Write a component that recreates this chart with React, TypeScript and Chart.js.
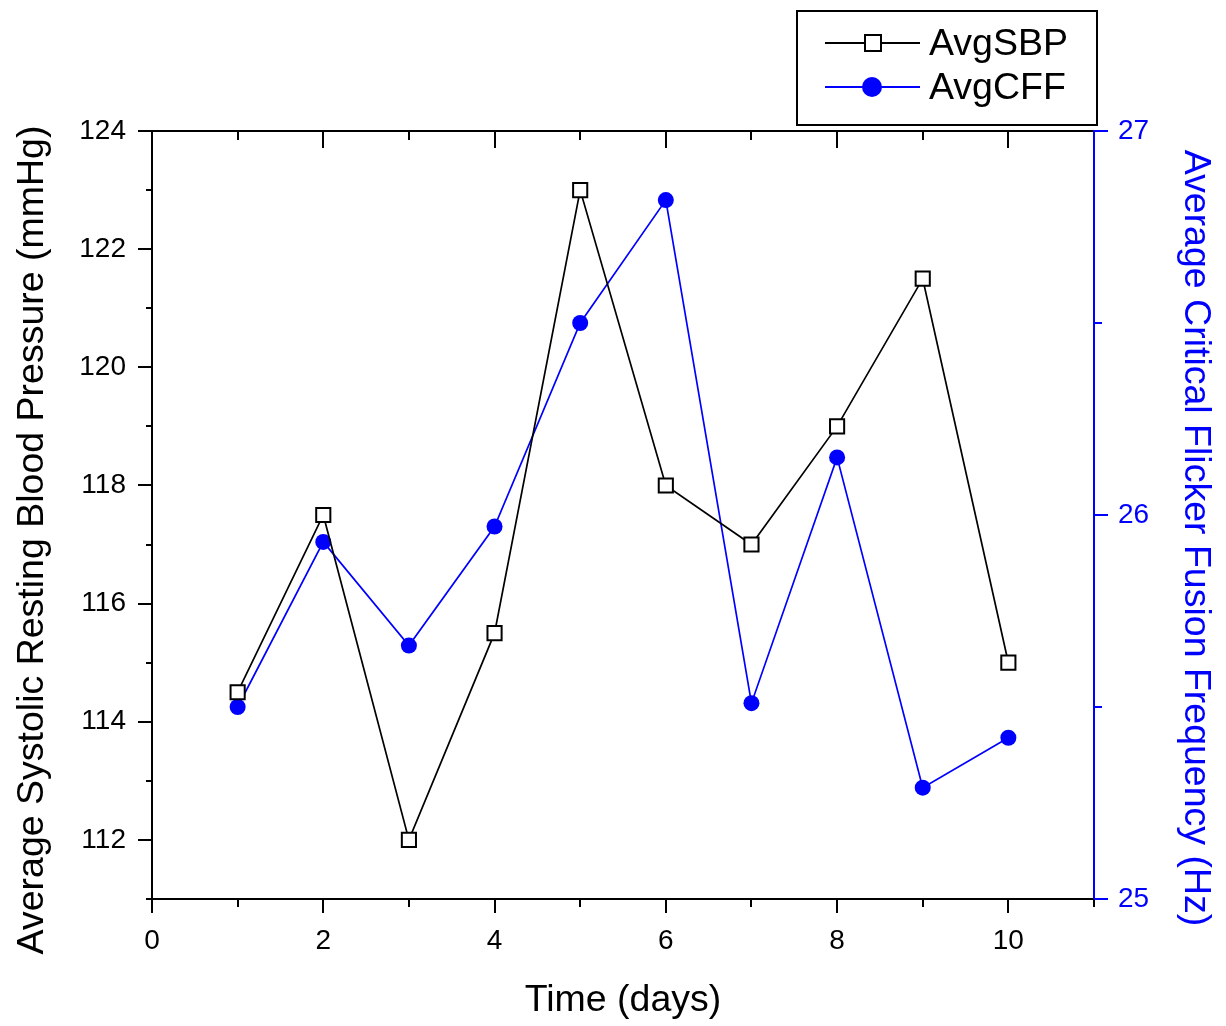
import React, { useEffect, useRef } from "react";
import { Chart, registerables } from "chart.js";

Chart.register(...registerables);

const days = [1, 2, 3, 4, 5, 6, 7, 8, 9, 10];
const avgSBP = [114.5, 117.5, 112, 115.5, 123, 118, 117, 119, 121.5, 115];
const avgCFF = [25.5, 25.93, 25.66, 25.97, 26.5, 26.82, 25.51, 26.15, 25.29, 25.42];

const xTicks = [0, 2, 4, 6, 8, 10];
const xMinor = [1, 3, 5, 7, 9, 11];
const leftTicks = [112, 114, 116, 118, 120, 122, 124];
const leftMinor = [111, 113, 115, 117, 119, 121, 123];
const rightTicks = [25, 26, 27];
const rightMinor = [25.5, 26.5];

const seriesNames = ["AvgSBP", "AvgCFF"];
const leftTitle = "Average Systolic Resting Blood Pressure (mmHg)";
const rightTitle = "Average Critical Flicker Fusion Frequency (Hz)";
const BLUE = "#0000ff";
const FONT = "'Liberation Sans', Arial, Helvetica, sans-serif";
const TITLE_SIZE = 37.5;
const TICK_SIZE = 28;

const axesPlugin = {
  id: "originAxes",
  beforeDatasetsDraw(chart: any) {
    const ctx = chart.ctx;
    const { left, right, top, bottom } = chart.chartArea;
    const sx = chart.scales.x;
    const sy = chart.scales.y;
    const sy1 = chart.scales.y1;
    ctx.save();
    ctx.lineWidth = 2;
    ctx.lineCap = "butt";
    ctx.strokeStyle = "#000";
    ctx.beginPath();
    ctx.moveTo(left, top);
    ctx.lineTo(left, bottom);
    ctx.moveTo(left - 1, bottom);
    ctx.lineTo(right, bottom);
    ctx.moveTo(left - 1, top);
    ctx.lineTo(right, top);
    leftTicks.forEach((v) => {
      const y = Math.round(sy.getPixelForValue(v));
      ctx.moveTo(left - 14, y);
      ctx.lineTo(left, y);
    });
    leftMinor.forEach((v) => {
      const y = Math.round(sy.getPixelForValue(v));
      ctx.moveTo(left - 6, y);
      ctx.lineTo(left, y);
    });
    xTicks.forEach((v) => {
      const x = Math.round(sx.getPixelForValue(v));
      ctx.moveTo(x, bottom);
      ctx.lineTo(x, bottom + 14);
      ctx.moveTo(x, top);
      ctx.lineTo(x, top + 17);
    });
    xMinor.forEach((v) => {
      const x = Math.round(sx.getPixelForValue(v));
      ctx.moveTo(x, bottom);
      ctx.lineTo(x, bottom + 8);
      if (v < 11) {
        ctx.moveTo(x, top);
        ctx.lineTo(x, top + 9);
      }
    });
    ctx.stroke();
    ctx.strokeStyle = BLUE;
    ctx.beginPath();
    ctx.moveTo(right, top - 1);
    ctx.lineTo(right, bottom);
    rightTicks.forEach((v) => {
      const y = Math.round(sy1.getPixelForValue(v));
      ctx.moveTo(right, y);
      ctx.lineTo(right + 14, y);
    });
    rightMinor.forEach((v) => {
      const y = Math.round(sy1.getPixelForValue(v));
      ctx.moveTo(right, y);
      ctx.lineTo(right + 8, y);
    });
    ctx.stroke();

    // vertical axis titles
    ctx.font = `${TITLE_SIZE}px ${FONT}`;
    ctx.textAlign = "center";
    ctx.textBaseline = "middle";
    ctx.save();
    ctx.translate(32.5, 540);
    ctx.rotate(-Math.PI / 2);
    ctx.fillStyle = "#000";
    ctx.fillText(leftTitle, 0, 0);
    ctx.restore();
    ctx.save();
    ctx.translate(1195.5, 538);
    ctx.rotate(Math.PI / 2);
    ctx.fillStyle = BLUE;
    ctx.fillText(rightTitle, 0, 0);
    ctx.restore();
    ctx.restore();
  },
  afterDraw(chart: any) {
    const ctx = chart.ctx;
    ctx.save();
    ctx.lineWidth = 2;
    ctx.strokeStyle = "#000";
    ctx.strokeRect(797, 11, 300, 114);
    const rows = [43, 87];
    ctx.beginPath();
    ctx.moveTo(825, rows[0]);
    ctx.lineTo(920, rows[0]);
    ctx.stroke();
    ctx.fillStyle = "#fff";
    ctx.fillRect(865, rows[0] - 8, 16, 16);
    ctx.strokeRect(865, rows[0] - 8, 16, 16);
    ctx.strokeStyle = BLUE;
    ctx.beginPath();
    ctx.moveTo(825, rows[1]);
    ctx.lineTo(920, rows[1]);
    ctx.stroke();
    ctx.fillStyle = BLUE;
    ctx.beginPath();
    ctx.arc(872, rows[1], 10, 0, Math.PI * 2);
    ctx.fill();
    ctx.fillStyle = "#000";
    ctx.font = `${TITLE_SIZE}px ${FONT}`;
    ctx.textAlign = "left";
    ctx.textBaseline = "middle";
    ctx.fillText(seriesNames[0], 929, rows[0] + 2);
    ctx.fillText(seriesNames[1], 929, rows[1] + 2);
    ctx.restore();
  },
};

export default function App() {
  const ref = useRef<HTMLCanvasElement | null>(null);

  useEffect(() => {
    if (!ref.current) return;
    const chart = new Chart(ref.current, {
      type: "line",
      data: {
        datasets: [
          {
            label: seriesNames[0],
            data: days.map((d, i) => ({ x: d, y: avgSBP[i] })),
            yAxisID: "y",
            borderColor: "#000",
            borderWidth: 1.7,
            pointStyle: "rect",
            pointRadius: 10,
            pointBorderWidth: 2,
            pointBackgroundColor: "#fff",
            pointBorderColor: "#000",
            tension: 0,
          },
          {
            label: seriesNames[1],
            data: days.map((d, i) => ({ x: d, y: avgCFF[i] })),
            yAxisID: "y1",
            borderColor: BLUE,
            borderWidth: 1.7,
            pointStyle: "circle",
            pointRadius: 8,
            pointBorderWidth: 0,
            pointBackgroundColor: BLUE,
            pointBorderColor: BLUE,
            tension: 0,
          },
        ],
      },
      options: {
        responsive: false,
        animation: false,
        layout: { padding: { top: 131, left: 0, right: 0, bottom: 0 } },
        plugins: { legend: { display: false }, tooltip: { enabled: false } },
        scales: {
          x: {
            type: "linear",
            position: "bottom",
            min: 0,
            max: 11,
            afterBuildTicks: (s: any) => {
              s.ticks = xTicks.map((v) => ({ value: v }));
            },
            afterFit: (s: any) => {
              s.height = 127;
            },
            grid: { display: false, drawTicks: false, tickLength: 0 },
            border: { display: false },
            ticks: {
              autoSkip: false,
              maxRotation: 0,
              color: "#000",
              padding: 25,
              font: { family: FONT, size: TICK_SIZE },
            },
            title: {
              display: true,
              text: "Time (days)",
              color: "#000",
              font: { family: FONT, size: TITLE_SIZE },
              padding: { top: 0, bottom: 3 },
            },
          },
          y: {
            type: "linear",
            position: "left",
            min: 111,
            max: 124,
            afterBuildTicks: (s: any) => {
              s.ticks = leftTicks.map((v) => ({ value: v }));
            },
            afterFit: (s: any) => {
              s.width = 152;
            },
            grid: { display: false, drawTicks: false, tickLength: 0 },
            border: { display: false },
            ticks: {
              autoSkip: false,
              color: "#000",
              padding: 26,
              font: { family: FONT, size: TICK_SIZE },
            },
            title: { display: false },
          },
          y1: {
            type: "linear",
            position: "right",
            min: 25,
            max: 27,
            afterBuildTicks: (s: any) => {
              s.ticks = rightTicks.map((v) => ({ value: v }));
            },
            afterFit: (s: any) => {
              s.width = 132;
            },
            grid: { display: false, drawTicks: false, tickLength: 0 },
            border: { display: false },
            ticks: {
              autoSkip: false,
              color: BLUE,
              padding: 24,
              font: { family: FONT, size: TICK_SIZE },
            },
            title: { display: false },
          },
        },
      },
      plugins: [axesPlugin],
    } as any);
    return () => chart.destroy();
  }, []);

  return (
    <div style={{ position: "absolute", left: 0, top: 0, width: 1226, height: 1026, background: "#fff" }}>
      <canvas ref={ref} width={1226} height={1026} style={{ display: "block" }} />
    </div>
  );
}
